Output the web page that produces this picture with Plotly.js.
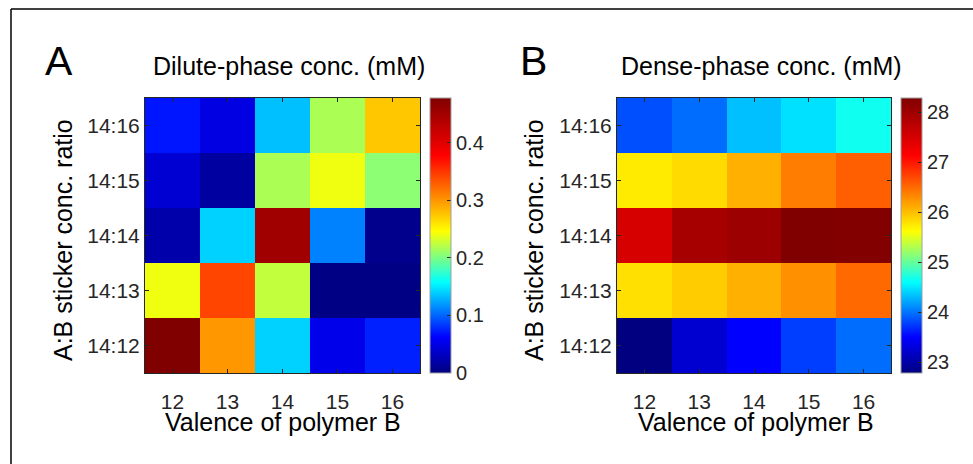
<!DOCTYPE html>
<html>
<head>
<meta charset="utf-8">
<script src="https://cdn.plot.ly/plotly-3.0.1.min.js"></script>
<style>
  html, body { margin: 0; padding: 0; background: #ffffff; }
  #chart { width: 973px; height: 464px; }
</style>
</head>
<body>
<div id="chart"></div>
<script>
// ---- data ----
var valenceB = [12, 13, 14, 15, 16];
var ratioLabels = ["14:12", "14:13", "14:14", "14:15", "14:16"];

// Dilute-phase concentration (mM), rows follow ratioLabels (bottom to top)
var diluteRow1412 = [0.478, 0.300, 0.141, 0.052, 0.074];
var diluteRow1413 = [0.241, 0.342, 0.225, 0.002, 0.002];
var diluteRow1414 = [0.021, 0.141, 0.452, 0.111, 0.006];
var diluteRow1415 = [0.040, 0.016, 0.217, 0.241, 0.206];
var diluteRow1416 = [0.070, 0.048, 0.134, 0.217, 0.275];

// Dense-phase concentration (mM)
var denseRow1412 = [22.79, 23.24, 23.50, 23.77, 23.97];
var denseRow1413 = [25.80, 25.92, 26.09, 26.27, 26.51];
var denseRow1414 = [27.50, 27.94, 28.03, 28.286, 28.27];
var denseRow1415 = [25.74, 25.83, 26.09, 26.39, 26.57];
var denseRow1416 = [23.84, 23.97, 24.33, 24.47, 24.66];

var diluteTicks = [0, 0.1, 0.2, 0.3, 0.4];
var diluteTickText = ["0", "0.1", "0.2", "0.3", "0.4"];
var denseTicks = [23, 24, 25, 26, 27, 28];
var denseTickText = ["23", "24", "25", "26", "27", "28"];

var diluteZ = [diluteRow1412, diluteRow1413, diluteRow1414, diluteRow1415, diluteRow1416];
var denseZ = [denseRow1412, denseRow1413, denseRow1414, denseRow1415, denseRow1416];

// ---- styling ----
var W = 973, H = 464;
function px(x) { return x / W; }
function py(y) { return 1 - y / H; }

// jet-like colormap as seen in the reference colorbars
var jet = [
  [0, "rgb(0,0,128)"],
  [0.13, "rgb(0,0,255)"],
  [0.33, "rgb(0,255,255)"],
  [0.4225, "rgb(128,255,128)"],
  [0.515, "rgb(255,255,0)"],
  [0.79, "rgb(255,0,0)"],
  [1, "rgb(128,0,0)"]
];

var FONT = "Liberation Sans, Arial, Helvetica, sans-serif";
var TICKC = "#262626";

function colorbar(x, tv, tt) {
  return {
    x: px(x), xanchor: "left", xpad: 0,
    y: py(235.5), yanchor: "middle", ypad: 0,
    len: 275, lenmode: "pixels",
    thickness: 21, thicknessmode: "pixels",
    outlinewidth: 1, outlinecolor: "#a0a0a0",
    ticks: "inside", ticklen: 4, tickcolor: TICKC,
    tickvals: tv, ticktext: tt,
    tickfont: { family: FONT, size: 20, color: TICKC }
  };
}

var traces = [
  {
    type: "heatmap", x: valenceB, y: ratioLabels, z: diluteZ,
    colorscale: jet, zmin: 0, zmax: 0.478,
    xaxis: "x", yaxis: "y",
    colorbar: colorbar(430, diluteTicks, diluteTickText)
  },
  {
    type: "heatmap", x: valenceB, y: ratioLabels, z: denseZ,
    colorscale: jet, zmin: 22.786, zmax: 28.286,
    xaxis: "x2", yaxis: "y2",
    colorbar: colorbar(901, denseTicks, denseTickText)
  }
];

function xax(d0, d1, anchor) {
  return {
    domain: [px(d0), px(d1)], anchor: anchor,
    range: [11.5, 16.5], tickvals: valenceB, ticktext: valenceB.map(String),
    showline: true, mirror: "ticks", linecolor: TICKC, linewidth: 1,
    ticks: "inside", ticklen: 4, tickcolor: TICKC,
    showgrid: false, zeroline: false, fixedrange: true,
    tickfont: { family: FONT, size: 21, color: TICKC },
    ticklabelstandoff: 10
  };
}
function yax(anchor) {
  return {
    domain: [py(373), py(98)], anchor: anchor,
    type: "category", categoryorder: "array", categoryarray: ratioLabels,
    range: [-0.5, 4.5],
    showline: true, mirror: "ticks", linecolor: TICKC, linewidth: 1,
    ticks: "inside", ticklen: 4, tickcolor: TICKC,
    showgrid: false, zeroline: false, fixedrange: true,
    tickfont: { family: FONT, size: 21, color: TICKC },
    ticklabelstandoff: 0
  };
}

function ann(text, x, y, size, angle) {
  return {
    text: text, xref: "paper", yref: "paper",
    x: px(x), y: py(y), xanchor: "center", yanchor: "middle",
    showarrow: false, textangle: angle || 0,
    font: { family: FONT, size: size, color: "#000000" }
  };
}

var layout = {
  width: W, height: H,
  margin: { l: 0, r: 0, t: 0, b: 0, pad: 0 },
  paper_bgcolor: "#ffffff", plot_bgcolor: "#ffffff",
  showlegend: false,
  xaxis: xax(145, 420, "y"),
  yaxis: yax("x"),
  xaxis2: xax(617, 891, "y2"),
  yaxis2: yax("x2"),
  annotations: [
    ann("A", 59, 61.5, 41),
    ann("B", 533, 61.5, 41),
    ann("Dilute-phase conc. (mM)", 288.5, 66, 25),
    ann("Dense-phase conc. (mM)", 761.5, 66, 25),
    ann("Valence of polymer B", 283, 422, 25),
    ann("Valence of polymer B", 756, 422, 25),
    ann("A:B sticker conc. ratio", 63, 240, 25, -90),
    ann("A:B sticker conc. ratio", 534, 240, 25, -90)
  ],
  shapes: [
    { type: "line", xref: "paper", yref: "paper", x0: px(11), x1: 1, y0: py(9), y1: py(9),
      line: { color: "#000000", width: 1.5 } },
    { type: "line", xref: "paper", yref: "paper", x0: px(11), x1: px(11), y0: 0, y1: py(9),
      line: { color: "#000000", width: 1.5 } }
  ]
};

Plotly.newPlot("chart", traces, layout, { displayModeBar: false, staticPlot: true });
</script>
</body>
</html>
